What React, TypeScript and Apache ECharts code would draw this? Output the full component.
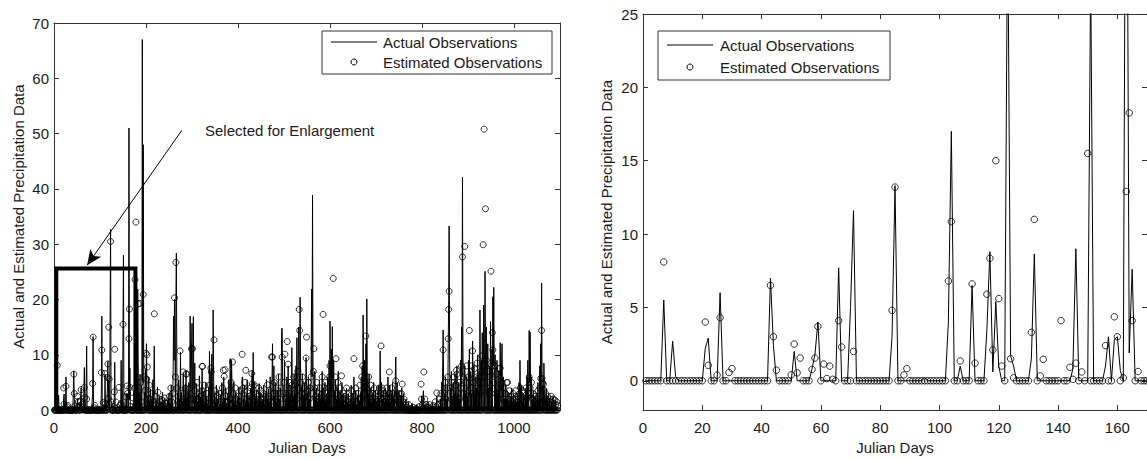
import React, { useEffect, useRef } from "react";
import * as echarts from "echarts";

const FONT = "'Liberation Sans', Arial, Helvetica, sans-serif";

const lastDay = 1095;
const rightLastDay = 172;

const leftXTicks = [0, 200, 400, 600, 800, 1000];
const leftYTicks = [0, 10, 20, 30, 40, 50, 60, 70];
const rightXTicks = [0, 20, 40, 60, 80, 100, 120, 140, 160];
const rightYTicks = [0, 5, 10, 15, 20, 25];

const xName = "Julian Days";
const yName = "Actual and Estimated Precipitation Data";
const actualName = "Actual Observations";
const estimatedName = "Estimated Observations";
const noteText = "Selected for Enlargement";

// [julian day, precipitation]; days not listed are 0
const actualObs: [number, number][] = [
  [7, 5.5], [10, 2.7], [11, 0.3], [21, 2.2], [22, 2.9], [26, 6.0], [43, 7.0], [44, 2.4],
  [51, 2.0], [57, 0.8], [58, 1.8], [59, 4.0], [66, 7.7], [70, 5.0], [71, 11.6], [84, 3.0],
  [85, 13.3], [95, 0.2], [103, 4.0], [104, 17.0], [107, 1.0], [111, 6.5], [116, 3.5], [117, 8.8],
  [118, 0.6], [119, 5.4], [120, 1.0], [123, 32.7], [124, 1.7], [125, 1.0], [131, 1.5], [132, 8.65],
  [145, 0.8], [146, 9.0], [151, 28.0], [156, 1.0], [157, 3.0], [159, 2.8], [160, 3.0], [161, 0.7],
  [163, 51.0], [164, 1.9], [165, 7.6],
  [172, 1.2], [174, 3.5], [176, 6], [177, 19.5], [178, 12], [179, 4], [180, 8], [182, 21.9],
  [183, 9], [185, 3], [187, 6.5], [189, 2], [190, 4.5], [192, 67], [193, 5], [194, 48], [195, 10],
  [197, 3.2], [199, 7.5], [201, 12], [202, 4], [204, 2.5], [206, 6], [208, 1.5], [210, 3.8],
  [213, 2], [215, 5.5], [218, 11.6], [219, 2.5], [222, 1.8], [225, 4.2], [227, 1], [230, 2.6],
  [233, 1.5], [236, 3.2], [238, 1.2], [241, 2.2], [244, 0.8], [247, 1.8], [250, 3.0], [252, 1.2],
  [255, 4.5], [257, 2], [259, 7], [260, 17], [261, 9], [262, 20], [263, 12], [265, 19.9],
  [266, 28.4], [267, 8], [269, 3], [271, 5.5], [273, 2], [275, 10.5], [277, 3.2], [279, 1.5],
  [281, 6.5], [283, 2.2], [285, 4.5], [287, 7], [289, 2], [291, 3.5], [293, 5], [294, 1.5],
  [296, 17], [297, 6], [299, 11], [300, 15.7], [301, 5], [303, 16.9], [304, 4], [306, 8.5],
  [308, 2.5], [310, 4.8], [312, 1.5], [314, 3], [316, 6.2], [318, 2], [320, 4], [322, 7.5],
  [324, 1.8], [326, 3.5], [328, 1.2], [330, 5], [332, 2.5], [334, 1], [336, 4.2], [338, 10.6],
  [339, 3], [341, 7], [343, 10.1], [344, 2.5], [346, 18.1], [347, 6], [349, 3], [351, 1.5],
  [353, 4.5], [355, 2], [358, 3.5], [360, 1], [362, 2.8], [365, 5], [367, 1.5], [369, 6],
  [371, 2.2], [373, 4], [375, 1.2], [378, 3], [380, 5.5], [381, 2], [383, 9.3], [384, 3],
  [386, 9], [387, 4], [389, 2], [391, 5], [393, 1.5], [395, 3.2], [397, 1], [400, 2.5],
  [402, 4.2], [404, 1.5], [407, 3.5], [409, 5.9], [410, 6], [412, 2], [414, 4.5], [416, 1.2],
  [418, 3], [420, 5.5], [422, 1.5], [424, 2.8], [426, 1], [428, 4], [430, 6], [431, 7.2],
  [433, 10.4], [434, 3], [436, 5], [438, 2], [440, 3.5], [442, 1], [444, 2.5], [446, 4.8],
  [448, 1.5], [450, 3], [452, 1.2], [454, 2], [456, 4.5], [458, 1], [460, 3], [462, 5.5],
  [464, 2], [466, 3.8], [468, 1.5], [470, 6], [472, 3], [475, 12], [476, 4], [478, 8],
  [480, 2.5], [482, 5], [484, 1.5], [486, 3.5], [488, 6.5], [490, 2], [492, 4], [494, 7],
  [495, 14.7], [496, 14.8], [497, 5], [499, 3], [501, 9], [502, 4], [504, 2], [506, 6],
  [507, 3], [509, 8], [511, 2], [513, 4.5], [515, 3], [517, 11.3], [518, 4], [520, 2],
  [522, 6.5], [524, 3], [526, 8], [528, 13.1], [529, 5], [531, 9], [532, 15], [533, 6],
  [535, 20.4], [536, 8], [538, 4], [540, 6.5], [542, 2.5], [544, 5], [546, 3], [548, 9.5],
  [549, 4], [551, 3], [553, 6], [555, 2], [557, 4.5], [559, 8], [560, 21.9], [561, 6],
  [562, 38.9], [563, 9], [565, 4], [567, 7], [569, 2.5], [571, 4], [573, 1.5], [575, 3],
  [577, 5.5], [579, 2], [581, 3.5], [583, 7], [585, 4], [587, 2], [589, 5], [591, 1.5],
  [593, 3], [595, 6], [597, 2], [598, 9], [600, 16.1], [601, 6], [603, 11], [605, 15.1],
  [606, 5], [608, 9], [610, 3], [612, 5.5], [614, 2], [616, 4], [618, 7], [620, 2],
  [622, 3.5], [624, 1.5], [626, 5], [628, 2], [630, 3], [632, 1], [634, 2.5], [636, 4],
  [638, 1.5], [640, 3], [642, 1], [644, 2.2], [646, 4.5], [648, 1.5], [650, 3], [652, 6],
  [654, 2], [656, 3.5], [658, 1], [660, 2.5], [662, 4], [664, 1.5], [666, 3], [668, 6],
  [670, 8], [672, 17.2], [673, 5], [675, 9], [677, 4], [678, 12], [680, 20.1], [681, 7],
  [683, 3], [685, 6.5], [687, 2], [689, 4], [691, 1.5], [693, 3], [695, 5], [697, 2],
  [699, 3.5], [701, 1.5], [703, 2.5], [705, 4.5], [707, 2], [709, 10.7], [710, 3], [712, 5],
  [714, 2], [716, 3.5], [718, 1.5], [720, 4], [722, 2], [724, 3], [726, 6], [728, 2],
  [730, 4.5], [732, 1.5], [734, 3], [736, 5], [738, 2], [740, 3.5], [742, 6], [743, 9.6],
  [744, 3], [746, 5], [748, 2], [750, 3.5], [752, 1], [754, 2.5], [756, 4], [758, 1.5],
  [760, 3], [762, 1], [765, 2], [768, 0.8], [771, 1.5], [775, 0.6], [779, 1.2], [784, 0.5],
  [789, 1], [795, 0.6], [799, 2.5], [800, 1.2], [803, 3.5], [805, 1], [809, 0.8], [813, 1.5],
  [818, 0.5], [823, 1.2], [828, 0.8], [832, 2.5], [836, 1], [840, 2], [843, 5], [845, 8],
  [846, 14.5], [847, 5], [849, 3], [851, 6], [853, 2], [855, 4.5], [857, 12], [858, 20],
  [859, 33.3], [860, 10], [862, 4], [864, 7], [866, 2], [868, 5], [870, 3], [872, 6.5],
  [874, 2], [876, 8], [878, 3], [880, 5], [882, 2], [884, 9], [886, 15], [887, 6],
  [888, 42.1], [889, 12], [891, 5], [893, 8], [895, 3], [897, 6], [899, 2.5], [901, 9],
  [903, 11], [904, 4], [906, 7], [908, 3], [910, 12.5], [911, 5], [913, 8], [915, 3],
  [917, 6], [919, 4], [921, 10], [922, 4], [924, 7], [926, 18.1], [927, 6], [929, 9],
  [931, 14], [932, 5], [934, 19], [935, 12], [937, 25.1], [938, 10], [940, 15], [941, 5],
  [943, 12], [945, 4], [947, 8], [949, 16], [950, 6], [952, 11], [954, 20.5], [955, 8],
  [956, 22.2], [957, 7], [959, 10], [961, 4], [963, 9], [965, 3], [967, 7], [969, 5],
  [970, 12.2], [971, 4], [973, 8], [974, 12], [975, 4], [977, 6], [979, 2], [981, 4.5],
  [983, 2], [985, 3.5], [987, 1.5], [989, 3], [991, 1], [993, 2.5], [995, 4], [997, 1.5],
  [999, 3], [1001, 1], [1003, 2.5], [1005, 1.2], [1007, 3], [1009, 1.5], [1011, 5], [1013, 9],
  [1014, 3], [1016, 4.5], [1018, 1.5], [1020, 3], [1022, 1], [1024, 2.5], [1026, 4], [1028, 6],
  [1030, 9], [1031, 3], [1033, 14.4], [1034, 5], [1035, 14.1], [1036, 4], [1038, 6], [1040, 2],
  [1042, 3.5], [1044, 1.5], [1046, 2.5], [1048, 1], [1050, 3], [1052, 5], [1054, 2], [1056, 8],
  [1058, 12], [1060, 23], [1061, 7], [1063, 4], [1065, 8.5], [1066, 3], [1068, 2], [1070, 4],
  [1072, 1.5], [1074, 2.5], [1076, 1], [1078, 2], [1080, 0.8], [1082, 1.5], [1085, 2.5],
  [1087, 1], [1090, 1.8], [1093, 0.6],
];

const estimatedObs: [number, number][] = [
  [7, 8.1], [21, 4.0], [22, 1.05], [25, 0.38], [26, 4.3], [29, 0.56], [30, 0.83], [43, 6.5],
  [44, 3.0], [45, 0.72], [50, 0.4], [51, 2.5], [52, 0.54], [53, 1.55], [57, 0.77], [58, 1.55],
  [59, 3.7], [61, 1.14], [62, 0.15], [63, 1.0], [64, 0.1], [66, 4.1], [67, 2.3], [71, 2.0],
  [84, 4.8], [85, 13.2], [88, 0.4], [89, 0.83], [103, 6.8], [104, 10.85], [107, 1.35], [111, 6.6],
  [112, 1.2], [116, 5.9], [117, 8.35], [118, 2.1], [119, 15.0], [120, 5.6], [121, 1.0], [123, 30.5],
  [124, 1.5], [125, 0.2], [131, 3.3], [132, 11.0], [134, 0.33], [135, 1.46], [141, 4.1], [144, 0.92],
  [145, 0.1], [146, 1.2], [148, 0.6], [150, 15.5], [156, 2.4], [159, 4.36], [160, 3.0], [162, 0.2],
  [163, 12.9], [164, 18.26], [165, 4.1], [167, 0.63],
  [172, 2.2], [175, 4], [176, 23.6], [178, 34], [180, 3], [183, 19.2], [186, 19.3], [188, 5],
  [190, 1.5], [194, 20.9], [196, 6], [198, 3.5], [200, 10.3], [201, 5.6], [202, 10], [203, 7.8],
  [205, 2], [207, 4.5], [209, 1.2], [212, 3], [215, 1.8], [218, 17.4], [220, 2.5], [223, 1],
  [226, 3.2], [229, 0.8], [232, 1.5], [234, 1.9], [237, 0.8], [240, 2.2], [243, 1.2], [246, 0.6],
  [249, 1.5], [251, 2.5], [254, 4.0], [256, 1.5], [258, 3], [262, 20.3], [264, 6], [265, 26.7],
  [267, 4], [270, 2.5], [272, 1.2], [274, 10.7], [276, 3], [278, 1.5], [281, 6.9], [283, 2],
  [285, 4], [287, 6.6], [288, 6.5], [290, 2.5], [292, 1.2], [295, 4], [297, 2], [299, 11.1],
  [301, 11.1], [302, 4.5], [304, 2], [306, 3.5], [309, 1.5], [311, 5], [313, 2], [315, 1],
  [318, 2.5], [321, 3.5], [322, 7.9], [323, 7.9], [325, 2], [327, 4.5], [329, 1.5], [332, 3],
  [335, 1.2], [338, 4.5], [341, 7.6], [342, 6.9], [344, 3], [346, 2], [348, 12.7], [350, 3.5],
  [352, 1.5], [355, 2.5], [357, 1], [360, 3], [363, 1.5], [366, 4], [368, 7.2], [370, 6.1],
  [372, 7.3], [374, 2.5], [377, 1.5], [380, 3.5], [382, 2], [385, 5], [388, 8.7], [390, 3],
  [392, 1.5], [394, 4], [397, 2], [399, 1], [402, 2.5], [405, 1.5], [407, 3.5], [409, 10.1],
  [411, 4], [413, 2], [415, 5], [417, 7.2], [419, 2], [421, 3.5], [423, 1.5], [425, 2.5],
  [427, 4], [430, 6.6], [431, 4.7], [433, 2], [435, 4.6], [437, 1.5], [439, 3], [441, 1],
  [443, 2.5], [445, 4], [447, 1.5], [449, 3.5], [451, 1], [453, 2], [455, 3], [457, 1.2],
  [459, 2.5], [461, 1], [464, 4.6], [466, 2], [468, 3.5], [471, 1.5], [473, 9.6], [475, 9.6],
  [477, 3], [479, 5], [481, 2], [483, 4], [485, 1.5], [487, 3], [489, 6], [491, 2],
  [493, 4], [496, 9.6], [498, 3], [500, 5], [502, 10.1], [504, 3], [505, 2], [507, 12.4],
  [509, 8.3], [511, 3], [513, 5], [515, 2], [517, 4.5], [519, 2], [521, 6], [523, 3],
  [525, 4.5], [527, 2], [530, 7], [531, 4], [533, 18.2], [534, 14.4], [536, 5], [538, 3],
  [540, 6], [542, 2], [544, 4], [546, 3], [548, 9.4], [549, 13.2], [551, 3.5], [553, 5],
  [555, 2], [557, 4], [559, 6], [561, 3], [564, 7], [565, 11.1], [567, 4], [569, 2.5],
  [571, 5], [573, 2], [575, 3], [577, 1.5], [579, 4], [581, 2], [583, 6], [585, 17.3],
  [587, 4], [589, 2], [591, 5], [593, 3], [595, 1.5], [597, 4], [599, 6], [600, 8],
  [602, 5], [604, 3], [607, 23.8], [609, 4], [611, 6], [613, 9.3], [615, 3], [617, 5],
  [619, 2], [621, 4], [623, 1.5], [625, 6.2], [627, 2], [629, 3], [631, 1], [633, 2.5],
  [636, 4], [638, 1.5], [641, 3], [643, 1], [645, 2], [647, 3.5], [650, 1.5], [652, 9.3],
  [654, 2.5], [656, 4], [658, 1.5], [661, 3], [663, 2], [665, 4.5], [667, 2], [669, 6],
  [671, 8.0], [674, 3], [676, 5], [678, 13.4], [680, 4], [682, 2], [684, 6], [686, 3],
  [688, 4.5], [690, 2], [692, 3], [694, 1.5], [696, 4], [698, 2], [700, 3], [703, 1.5],
  [705, 2.5], [707, 4], [709, 3], [711, 11.6], [713, 4], [715, 2], [717, 3], [719, 1.5],
  [721, 2.5], [723, 4], [725, 2], [727, 3], [729, 6.9], [730, 3], [732, 2], [734, 4],
  [736, 1.5], [738, 3], [741, 2], [743, 5.3], [745, 2.5], [747, 1.5], [749, 3], [751, 1],
  [753, 2], [755, 3], [757, 4.7], [759, 1.5], [761, 2], [764, 1], [767, 0.5], [771, 1],
  [776, 0.3], [781, 0.5], [787, 0.3], [793, 0.6], [798, 4.7], [799, 2], [801, 1], [804, 6.9],
  [806, 2], [809, 1], [812, 0.5], [816, 1], [820, 0.4], [825, 0.8], [829, 1.5], [832, 3.1],
  [835, 1], [838, 2], [841, 3], [843, 1.5], [846, 10.9], [848, 3], [850, 5], [852, 2],
  [854, 4], [856, 6], [857, 12.9], [858, 18.2], [859, 21.5], [861, 4], [863, 2], [865, 5],
  [867, 3], [869, 6], [871, 2], [873, 4.5], [875, 7.2], [876, 6.5], [878, 3], [880, 5],
  [882, 2], [884, 4], [886, 8], [888, 27.7], [890, 6], [892, 3], [893, 29.6], [895, 5],
  [897, 8], [899, 3], [901, 6], [903, 14.4], [905, 4], [907, 8], [909, 3], [910, 10.7],
  [912, 5], [914, 7.5], [916, 3], [918, 6], [920, 8.5], [922, 4], [924, 6], [926, 3],
  [928, 7], [930, 9.8], [931, 5], [933, 29.9], [934, 8], [935, 50.8], [936, 6], [938, 36.4],
  [940, 9], [942, 4], [944, 7], [946, 3], [948, 6], [950, 25.1], [951, 8], [953, 14],
  [954, 10.9], [956, 5], [958, 8], [960, 3], [962, 6.5], [964, 4], [966, 2], [968, 7.5],
  [970, 7.6], [972, 3], [974, 5], [976, 2], [978, 4], [980, 1.5], [982, 3], [984, 5.0],
  [986, 5.0], [988, 2], [990, 3.5], [992, 1], [994, 2.5], [996, 1.5], [998, 3], [1000, 1],
  [1002, 2], [1004, 3.5], [1006, 1.5], [1008, 2.5], [1010, 1], [1012, 3], [1014, 4], [1016, 2],
  [1018, 3.5], [1020, 1.5], [1022, 3.1], [1024, 2], [1026, 4], [1028, 2.5], [1031, 3.1], [1033, 6],
  [1035, 4], [1038, 5.0], [1040, 2], [1042, 3], [1044, 1.5], [1046, 2.5], [1048, 1], [1050, 2],
  [1052, 3.5], [1054, 1.5], [1056, 4], [1058, 5.7], [1060, 14.4], [1061, 5.7], [1062, 4.9], [1064, 4.7],
  [1065, 3.6], [1067, 2], [1069, 3], [1071, 1.5], [1073, 2.5], [1075, 1], [1077, 2], [1079, 1.5],
  [1081, 2.5], [1083, 1], [1085, 2], [1087, 1.2], [1089, 1.8], [1091, 1], [1093, 1.5], [1095, 0.8],
];

// enlargement box and arrow (data coordinates of the left panel)
const selectionBox: [number, number][] = [[5, 0], [5, 25.6], [177, 25.6], [177, 0]];
const arrowFrom: [number, number] = [278, 50.6];
const arrowTo: [number, number] = [72, 26.2];

function fillDays(sparse: [number, number][], last: number): [number, number][] {
  const m = new Map<number, number>();
  sparse.forEach(([d, v]) => m.set(d, v));
  const out: [number, number][] = [];
  for (let d = 1; d <= last; d++) out.push([d, m.has(d) ? (m.get(d) as number) : 0]);
  return out;
}

const AXIS_COLOR = "#333";
const TEXT_COLOR = "#1a1a1a";

function makeAxis(gridIndex: number, position: string, min: number, max: number, ticks: number[], withLabels: boolean, labelMargin: number, name?: string, nameGap?: number, isY?: boolean, interval?: number) {
  const ax: any = {
    type: "value",
    gridIndex,
    position,
    min,
    max,
    splitLine: { show: false },
    axisLine: { show: true, onZero: false, lineStyle: { color: AXIS_COLOR, width: 1 } },
    axisTick: { show: true, inside: true, length: 5, customValues: ticks, lineStyle: { color: AXIS_COLOR, width: 1 } },
    axisLabel: {
      show: withLabels,
      customValues: ticks,
      margin: labelMargin,
      fontSize: 15,
      fontFamily: FONT,
      color: TEXT_COLOR,
      formatter: (v: number) => (ticks.indexOf(v) >= 0 ? String(v) : ""),
    },
    axisPointer: { show: false },
  };
  if (interval) ax.interval = interval;
  if (name) {
    ax.name = name;
    ax.nameLocation = "middle";
    ax.nameGap = nameGap;
    ax.nameTextStyle = { fontSize: 15, fontFamily: FONT, color: TEXT_COLOR };
    if (isY) ax.nameRotate = 90;
  }
  return ax;
}

function legendGraphics(x: number, y: number, w: number, h: number, row1: number, row2: number, lineX1: number, lineX2: number, textX: number) {
  const midX = (lineX1 + lineX2) / 2;
  return [
    { type: "rect", z: 100, shape: { x, y, width: w, height: h }, style: { fill: "#fff", stroke: AXIS_COLOR, lineWidth: 1 } },
    { type: "line", z: 101, shape: { x1: lineX1, y1: row1, x2: lineX2, y2: row1 }, style: { stroke: "#000", lineWidth: 1 } },
    { type: "circle", z: 101, shape: { cx: midX, cy: row2, r: 3 }, style: { fill: "none", stroke: "#000", lineWidth: 1 } },
    { type: "text", z: 101, x: textX, y: row1, style: { text: actualName, fontSize: 15, fontFamily: FONT, fill: TEXT_COLOR, verticalAlign: "middle", align: "left" } },
    { type: "text", z: 101, x: textX, y: row2, style: { text: estimatedName, fontSize: 15, fontFamily: FONT, fill: TEXT_COLOR, verticalAlign: "middle", align: "left" } },
  ];
}

export default function App() {
  const ref = useRef<HTMLDivElement>(null);
  useEffect(() => {
    if (!ref.current) return;
    const chart = echarts.init(ref.current, undefined, { renderer: "svg" });
    const actualAll = fillDays(actualObs, lastDay);
    const estimatedAll = fillDays(estimatedObs, lastDay);
    const actualRight = fillDays(actualObs, rightLastDay);
    const estimatedRight = fillDays(estimatedObs, rightLastDay);

    const lineStyle = { color: "#000", width: 1 };
    const circleStyle = { color: "rgba(0,0,0,0)", borderColor: "#000", borderWidth: 1 };

    chart.setOption({
      animation: false,
      textStyle: { fontFamily: FONT },
      grid: [
        { left: 54, top: 23, width: 506, height: 398 },
        { left: 643, top: 14, width: 509, height: 400 },
      ],
      xAxis: [
        makeAxis(0, "bottom", 0, 1100, leftXTicks, true, 10, xName, 25, false, 200),
        makeAxis(0, "top", 0, 1100, leftXTicks, false, 8, undefined, undefined, false, 200),
        makeAxis(1, "bottom", 0, 170, rightXTicks, true, 10, xName, 24, false, 20),
        makeAxis(1, "top", 0, 170, rightXTicks, false, 8, undefined, undefined, false, 20),
      ],
      yAxis: [
        makeAxis(0, "left", 0, 70, leftYTicks, true, 5, yName, 28, true, 10),
        makeAxis(0, "right", 0, 70, leftYTicks, false, 5, undefined, undefined, true, 10),
        makeAxis(1, "left", -2, 25, rightYTicks, true, 5, yName, 29, true),
        makeAxis(1, "right", -2, 25, rightYTicks, false, 5, undefined, undefined, true),
      ],
      series: [
        {
          name: actualName, type: "line", xAxisIndex: 0, yAxisIndex: 0, data: actualAll,
          symbol: "none", showSymbol: false, lineStyle, silent: true, z: 2,
        },
        {
          name: estimatedName, type: "scatter", xAxisIndex: 0, yAxisIndex: 0, data: estimatedAll,
          symbol: "circle", symbolSize: 6, itemStyle: circleStyle, silent: true, z: 3,
        },
        {
          name: "selection", type: "line", xAxisIndex: 0, yAxisIndex: 0, data: selectionBox,
          symbol: "none", showSymbol: false, silent: true, z: 4,
          lineStyle: { color: "#000", width: 4, join: "miter", cap: "butt" },
          markLine: {
            silent: true,
            symbol: ["none", "arrow"],
            symbolSize: [10, 15],
            label: { show: false },
            lineStyle: { color: "#000", width: 1, type: "solid" },
            itemStyle: { color: "#000" },
            data: [[{ coord: arrowFrom }, { coord: arrowTo }]],
          },
        },
        {
          name: actualName, type: "line", xAxisIndex: 2, yAxisIndex: 2, data: actualRight,
          symbol: "none", showSymbol: false, lineStyle, silent: true, z: 2,
        },
        {
          name: estimatedName, type: "scatter", xAxisIndex: 2, yAxisIndex: 2, data: estimatedRight,
          symbol: "circle", symbolSize: 6.5, itemStyle: circleStyle, silent: true, z: 3,
        },
      ],
      graphic: [
        { type: "text", z: 100, x: 205, y: 130, style: { text: noteText, fontSize: 15, fontFamily: FONT, fill: TEXT_COLOR, verticalAlign: "middle", align: "left" } },
        ...legendGraphics(322, 31, 230, 43, 42, 62, 331, 377, 383),
        ...legendGraphics(658, 31, 232, 49, 45, 67, 667, 713, 720),
      ],
    });
    return () => chart.dispose();
  }, []);

  return (
    <div style={{ position: "fixed", left: 0, top: 0, width: 1147, height: 460, background: "#fff" }}>
      <div ref={ref} style={{ width: 1147, height: 460 }} />
    </div>
  );
}
